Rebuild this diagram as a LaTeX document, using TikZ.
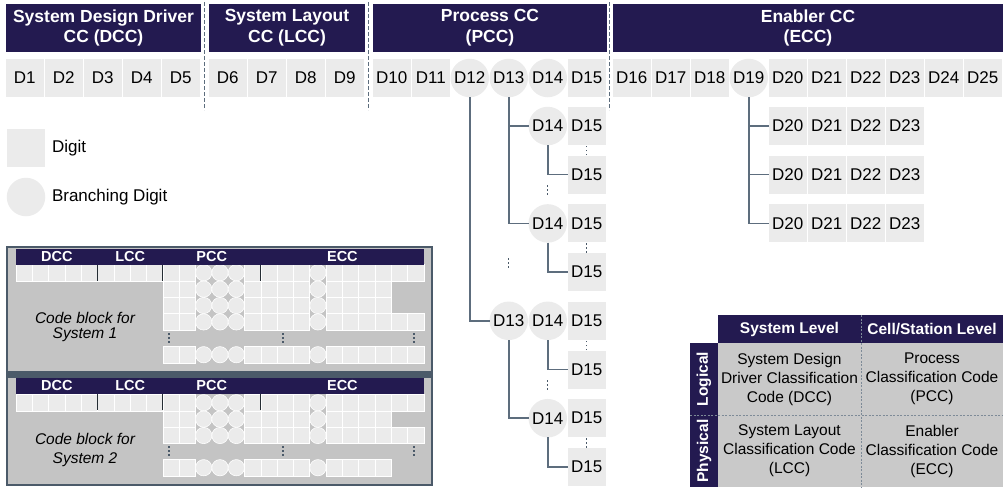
\documentclass[tikz,border=0pt]{standalone}
\usepackage{fontspec}
\setmainfont{Liberation Sans}
\usepackage{tikz}
\usetikzlibrary{positioning,calc}
\definecolor{ccnavy}{HTML}{231A50}
\definecolor{ccdigit}{HTML}{EBEBEB}
\definecolor{ccpanel}{HTML}{C4C4C4}
\definecolor{cctable}{HTML}{C9C9C9}
\definecolor{ccslate}{HTML}{4B5A69}
\definecolor{ccwire}{HTML}{5D6D7D}
\newcommand\ccdots{\vbox{\offinterlineskip\hbox{\rule{1.3pt}{1.3pt}}\kern2.7pt
	\hbox{\rule{1.3pt}{1.3pt}}\kern2.7pt\hbox{\rule{1.3pt}{1.3pt}}}}
\tikzset{
	cc chart/.style={
		x=1pt, y=-1pt,
		every node/.style={inner sep=0pt, outer sep=0pt},
		wire/.style={draw=ccwire, line width=1.5pt},
		cc sep/.style={draw=ccwire, line width=1.3pt, dash pattern=on 4pt off 2pt},
		tab sep/.style={draw=ccwire!80, line width=0.8pt, dash pattern=on 2pt off 1.5pt}},
	head/.style={fill=ccnavy, text=white, align=center, minimum height=48pt,
		font=\fontsize{17.5}{20.7}\selectfont\bfseries},
	digit/.style={fill=ccdigit, minimum width=37.5pt, minimum height=38pt,
		font=\fontsize{17}{20}\selectfont},
	branch/.style={digit, circle, minimum size=38.5pt},
	cc cell/.code={\ifnum#1=1 \pgfkeysalso{branch}\else\pgfkeysalso{digit}\fi},
	dots/.style={text=ccslate},
	key text/.style={anchor=west, font=\fontsize{17}{20}\selectfont},
	mini/.style={fill=ccdigit, draw=white, line width=0.6pt},
	mini head/.style={text=white, font=\fontsize{14.5}{16}\selectfont\bfseries},
	mini bar/.style={draw=ccslate!50!black, line width=1pt},
	block/.style={align=center, font=\fontsize{15.5}{#1}\selectfont\itshape},
	tab head/.style={fill=ccnavy, text=white, minimum height=28pt,
		font=\fontsize{15.5}{19}\selectfont\bfseries},
	tab cell/.style={fill=cctable, minimum height=72pt, align=center,
		font=\fontsize{15.5}{19}\selectfont}
}
% one row of a small code block: top, first column, last column
\newcommand\minirow[3]{%
	\foreach \c in {#2,...,#3} {
		\pgfmathsetmacro\mx{16+\c*16.32}
		\pgfmathtruncatemacro\isb{(\c==11)||(\c==12)||(\c==13)||(\c==18)}
		\ifnum\isb=1
			\path[mini] (\mx+8.16,#1+8.2) circle (8.15pt);
		\else
			\path[mini] (\mx,#1) rectangle +(16.32,16.4);
		\fi
	}}

\begin{document}
\begin{tikzpicture}[cc chart]
   \useasboundingbox (0,0) rectangle (1007,488);

   \foreach \i in {1,...,25} {
      \pgfmathtruncatemacro\grp{(\i>5)+(\i>9)+(\i>15)}
      \pgfmathsetmacro\gx{{6,209,373,613}[\grp]+(\i-{1,6,10,16}[\grp])*39+18.75}
      \pgfmathtruncatemacro\isb{(\i==12)||(\i==13)||(\i==14)||(\i==19)}
      \node[cc cell=\isb] (d\i) at (\gx,78) {D\i};
   }
   \node[head, minimum width=195pt] (hdcc) at (103.5,28) {System Design Driver\\CC (DCC)};
   \node[head, minimum width=156pt] (hlcc) at (287,28) {System Layout\\CC (LCC)};
   \node[head, minimum width=234pt] (hpcc) at (490,28) {Process CC\\(PCC)};
   \node[head, minimum width=390pt] (hecc) at (808,28) {Enabler CC\\(ECC)};

   \path ($(d5.east)!.5!(d6.west)$) coordinate (s1)
         ($(d9.east)!.5!(d10.west)$) coordinate (s2)
         ($(d15.east)!.5!(d16.west)$) coordinate (s3);
   \foreach \s in {s1,s2,s3}
      \draw[cc sep] (\s |- 0,2) -- (\s |- 0,110);

   % legend
   \node[digit] (kdigit) at (26,148) {};
   \node[key text] (kdigitt) at (52,148) {Digit};
   \node[branch] (kbranch) at (26,197) {};
   \node[key text] (kbrancht) at (52,197) {Branching Digit};

   % PCC branches
   \node[branch] (a14) at (d14 |- 0,126) {D14};
   \node[digit] (a15) at (d15 |- 0,126) {D15};
   \node[digit] (a15x) at (d15 |- 0,174.7) {D15};
   \node[branch] (b14) at (d14 |- 0,223.4) {D14};
   \node[digit] (b15) at (d15 |- 0,223.4) {D15};
   \node[digit] (b15x) at (d15 |- 0,272.1) {D15};
   \node[branch] (c13) at (d13 |- 0,320.8) {D13};
   \node[branch] (c14) at (d14 |- 0,320.8) {D14};
   \node[digit] (c15) at (d15 |- 0,320.8) {D15};
   \node[digit] (c15x) at (d15 |- 0,369.5) {D15};
   \node[branch] (e14) at (d14 |- 0,418.2) {D14};
   \node[digit] (e15) at (d15 |- 0,418.2) {D15};
   \node[digit] (e15x) at (d15 |- 0,466.9) {D15};
   \draw[wire] (d13.south) |- (a14.west);
   \draw[wire] (d13.south) |- (b14.west);
   \draw[wire] (a14.south) |- (a15x.west);
   \draw[wire] (b14.south) |- (b15x.west);
   \draw[wire] (d12.south) |- (c13.west);
   \draw[wire] (c13.south) |- (e14.west);
   \draw[wire] (c14.south) |- (c15x.west);
   \draw[wire] (e14.south) |- (e15x.west);
   \node[dots] (v1) at (d15 |- 0,150.4) {\ccdots};
   \node[dots] (v2) at (d14 |- 0,190) {\ccdots};
   \node[dots] (v3) at (d15 |- 0,248) {\ccdots};
   \node[dots] (v4) at (d13 |- 0,263) {\ccdots};
   \node[dots] (v5) at (d15 |- 0,345.5) {\ccdots};
   \node[dots] (v6) at (d14 |- 0,385) {\ccdots};
   \node[dots] (v7) at (d15 |- 0,443) {\ccdots};

   % ECC branches
   \foreach \r/\y in {1/126,2/174.7,3/223.4} {
      \foreach \j in {20,...,23}
         \node[digit] (r\r-\j) at (d\j |- 0,\y) {D\j};
      \draw[wire] (d19.south) |- (r\r-20.west);
   }

   % code blocks
   \draw[ccslate, line width=2pt, fill=ccpanel] (7,247) rectangle (432,484.5);
   \fill[ccslate] (7,371) rectangle (432,378);
   \minirow{264.5}{0}{24}
   \minirow{280.9}{9}{22}
   \minirow{297.3}{9}{22}
   \minirow{313.7}{9}{24}
   \minirow{346.5}{9}{24}
   \minirow{394.5}{0}{24}
   \minirow{410.9}{9}{22}
   \minirow{427.3}{9}{24}
   \minirow{459.5}{9}{22}
   \foreach \p/\top in {1/249,2/378} {
      \fill[ccnavy] (16,\top) rectangle (424,\top+15.5);
      \foreach \t/\x in {DCC/56.8,LCC/130.2,PCC/211.8,ECC/342.4}
         \node[mini head] (m\p\t) at (\x,\top+7.8) {\t};
      \foreach \c in {5,9,15}
         \draw[mini bar] (16+\c*16.32,\top+15.5) -- +(0,16.4);
   }
   \foreach \c/\x in {1/169,2/283,3/414} {
      \node[dots] (p1v\c) at (\x,338) {\ccdots};
      \node[dots] (p2v\c) at (\x,451) {\ccdots};
   }
   \node[block=15] (sys1) at (85,326.5) {Code block for\\System 1};
   \node[block=18.3] (sys2) at (85,450) {Code block for\\System 2};

   % classification table
   \node[tab head, minimum width=143pt] (tsys) at (789.5,329) {System Level};
   \node[tab head, minimum width=142pt] (tcell) at (932,329) {Cell/Station Level};
   \node[tab cell, minimum width=143pt] (tdcc) at (789.5,379) {System Design\\Driver Classification\\Code (DCC)};
   \node[tab cell, minimum width=142pt] (tpcc) at (932,379) {Process\\Classification Code\\(PCC)};
   \node[tab cell, minimum width=143pt] (tlcc) at (789.5,451) {System Layout\\Classification Code\\(LCC)};
   \node[tab cell, minimum width=142pt] (tecc) at (932,451) {Enabler\\Classification Code\\(ECC)};
   \node[tab head, rotate=90, minimum width=72pt] (tlog) at (704,379) {Logical};
   \node[tab head, rotate=90, minimum width=72pt] (tphy) at (704,451) {Physical};
   \draw[tab sep] (tsys.north east) -- (tlcc.south east);
   \draw[tab sep] (690,415) -- (tecc.north east);
\end{tikzpicture}
\end{document}
